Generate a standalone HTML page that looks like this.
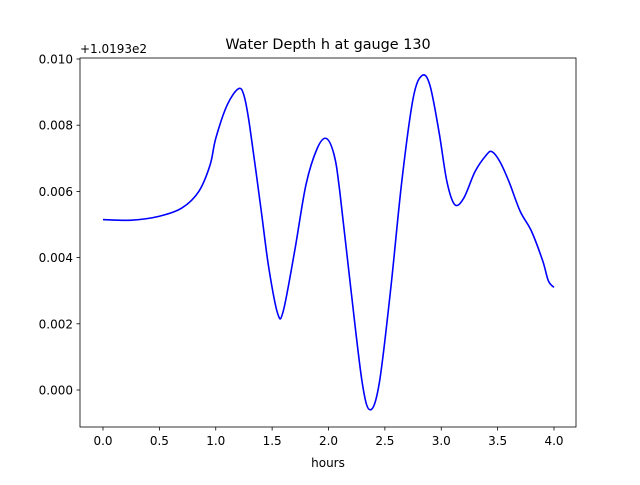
<!DOCTYPE html>
<html><head><meta charset="utf-8"><style>
body{margin:0;background:#fff;}
svg text{font-family:"DejaVu Sans","Liberation Sans",sans-serif;fill:#000;}
</style></head><body>
<svg id="chart" width="640" height="480" xmlns="http://www.w3.org/2000/svg">
<rect x="0" y="0" width="640" height="480" fill="#fff"/>
<text x="328" y="49" text-anchor="middle" font-size="14.4">Water Depth h at gauge 130</text>
<text x="80" y="53" font-size="12">+1.0193e2</text>
<text x="328" y="467" text-anchor="middle" font-size="12">hours</text>
<g id="xticks"></g>
<g id="yticks"></g>
<path id="line" fill="none" stroke="#0000ff" stroke-width="1.6"/>
<rect x="80" y="58" width="496" height="369" fill="none" stroke="#000" stroke-width="0.8"/>
</svg>
<script>
const hours=[0,0.25,0.5,0.7,0.85,0.95,1.0,1.1,1.2,1.25,1.3,1.4,1.47,1.55,1.6,1.7,1.8,1.9,1.98,2.05,2.1,2.2,2.3,2.37,2.45,2.55,2.65,2.75,2.83,2.9,2.98,3.05,3.12,3.2,3.3,3.4,3.45,3.52,3.6,3.7,3.8,3.9,3.95,4.0];
const depth=[0.00515,0.00513,0.00525,0.0055,0.006,0.0068,0.0076,0.0086,0.0091,0.0089,0.0080,0.0055,0.0037,0.0023,0.0024,0.0042,0.0062,0.0073,0.0076,0.0071,0.0060,0.0030,0.0002,-0.0006,0.0002,0.0030,0.0063,0.0088,0.0095,0.0092,0.0078,0.0063,0.0056,0.0058,0.0066,0.0071,0.0072,0.0069,0.0063,0.0054,0.0048,0.0039,0.0033,0.0031];
const xTickLabels=["0.0","0.5","1.0","1.5","2.0","2.5","3.0","3.5","4.0"];
const xTickValues=[0,0.5,1,1.5,2,2.5,3,3.5,4];
const yTickLabels=["0.000","0.002","0.004","0.006","0.008","0.010"];
const yTickValues=[0,0.002,0.004,0.006,0.008,0.010];
const X=v=>103+v*112.75;
const Y=v=>390-v*33100;
const NS="http://www.w3.org/2000/svg";
const xg=document.getElementById('xticks'),yg=document.getElementById('yticks');
xTickValues.forEach((v,i)=>{
 const l=document.createElementNS(NS,'line');
 
 
 l.setAttribute('x1',X(v));l.setAttribute('x2',X(v));l.setAttribute('y1',427);l.setAttribute('y2',430.5);l.setAttribute('stroke','#000');l.setAttribute('stroke-width','0.8');xg.appendChild(l);
 const t=document.createElementNS(NS,'text');
 
 
 t.setAttribute('x',X(v));t.setAttribute('y',445);t.setAttribute('text-anchor','middle');t.setAttribute('font-size','12');t.textContent=xTickLabels[i];xg.appendChild(t);
});
yTickValues.forEach((v,i)=>{
 const l=document.createElementNS(NS,'line');
 
 
 l.setAttribute('x1',76.5);l.setAttribute('x2',80);l.setAttribute('y1',Y(v));l.setAttribute('y2',Y(v));l.setAttribute('stroke','#000');l.setAttribute('stroke-width','0.8');yg.appendChild(l);
 const t=document.createElementNS(NS,'text');
 
 
 t.setAttribute('x',73);t.setAttribute('y',Y(v)+4.5);t.setAttribute('text-anchor','end');t.setAttribute('font-size','12');t.textContent=yTickLabels[i];yg.appendChild(t);
});
const P=hours.map((h,i)=>[X(h),Y(depth[i])]);
let d='M'+P[0][0]+','+P[0][1];
for(let i=0;i<P.length-1;i++){
 const p0=P[Math.max(0,i-1)],p1=P[i],p2=P[i+1],p3=P[Math.min(P.length-1,i+2)];
 const c1=[p1[0]+(p2[0]-p0[0])/6,p1[1]+(p2[1]-p0[1])/6];
 const c2=[p2[0]-(p3[0]-p1[0])/6,p2[1]-(p3[1]-p1[1])/6];
 d+=' C'+c1+' '+c2+' '+p2;
}
document.getElementById('line').setAttribute('d',d);
</script>
</body></html>
